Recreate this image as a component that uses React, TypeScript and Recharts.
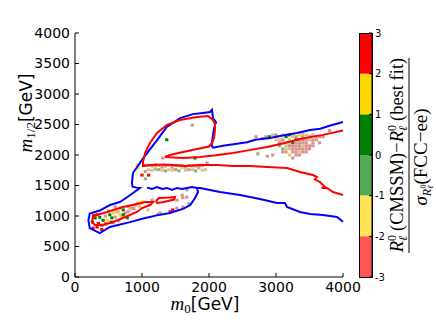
import React from "react";
import { ScatterChart, Scatter, XAxis, YAxis, BarChart, Bar } from "recharts";

const xTicks = [0, 1000, 2000, 3000, 4000];
const yTicks = [0, 500, 1000, 1500, 2000, 2500, 3000, 3500, 4000];

// colour bar levels, bottom to top
const cbLevels = [-3, -2, -1, 0, 1, 2, 3];
const cbColors = ["#ff5555", "#ffe455", "#55aa55", "#008000", "#ffd700", "#ff0000"];
// same bins, as they look on the scattered points
const cellColors = ["#d99090", "#d6c684", "#80b880", "#008000", "#ffd700", "#ff0000"];

// blue contour: top of the upper band, spike, left side, pinch, lower blob
const blueOuter = [
  [4000, 2540], [3800, 2480], [3660, 2430], [3510, 2410], [3310, 2360], [3060, 2310],
  [2910, 2280], [2690, 2250], [2570, 2210], [2390, 2180], [2210, 2150], [2060, 2120],
  [2040, 2150], [2045, 2213], [2060, 2330], [2075, 2440], [2105, 2540], [2060, 2606],
  [2045, 2740], [2015, 2705], [1910, 2690], [1760, 2670], [1570, 2605], [1370, 2460],
  [1225, 2245], [1090, 2050], [1000, 1920], [925, 1800], [865, 1705], [850, 1540],
  [860, 1480], [920, 1465], [970, 1460], [820, 1340], [670, 1230], [520, 1180],
  [370, 1090], [220, 1040], [200, 930], [220, 800], [370, 720], [520, 820],
  [820, 900], [1020, 960], [1220, 1010], [1420, 1050], [1620, 1120], [1720, 1180],
  [1790, 1290], [1836, 1393], [1821, 1460],
];

// blue contour: wavy gap line and bottom edge of the upper band
const blueLower = [
  [1075, 1465], [1150, 1443], [1224, 1475], [1300, 1443], [1373, 1460], [1448, 1426],
  [1522, 1460], [1597, 1443], [1672, 1460], [1746, 1475], [1821, 1460], [1866, 1460],
  [2164, 1393], [2463, 1344], [2761, 1279], [3015, 1213], [3134, 1213], [3164, 1148],
  [3358, 1066], [3507, 1033], [3701, 1016], [3910, 984], [4000, 905],
];

// red contours
const redLow = [
  [269, 1000], [478, 1066], [716, 1148], [925, 1197], [1045, 1230], [1165, 1230],
  [1120, 1180], [1000, 1131], [925, 1066], [716, 967], [567, 902], [418, 852],
  [299, 852], [254, 902], [269, 1000],
];
const redSmall = [
  [1209, 1246], [1254, 1295], [1418, 1303], [1493, 1311], [1478, 1270], [1328, 1229],
  [1224, 1213], [1209, 1246],
];
const redUpper = [
  [4000, 2400], [3700, 2330], [3358, 2262], [3100, 2190], [2866, 2131], [2600, 2080],
  [2358, 2033], [2100, 1995], [1866, 1967], [1612, 1951], [1343, 1967], [1418, 2000],
  [1612, 2049], [1821, 2098], [2000, 2139], [2045, 2197], [2075, 2279], [2090, 2410],
  [2090, 2508], [2060, 2574], [1985, 2639], [1821, 2623], [1567, 2574], [1373, 2492],
  [1224, 2361], [1119, 2197], [1045, 2033], [1015, 1885], [1015, 1820], [1119, 1836],
  [1343, 1844], [1642, 1820], [1866, 1836], [2119, 1836], [2358, 1820], [2612, 1820],
  [2866, 1803], [3164, 1787], [3358, 1721], [3552, 1672], [3612, 1639], [3580, 1600],
  [3657, 1557], [3731, 1475], [3680, 1460], [3761, 1459], [3851, 1393], [4000, 1344],
];

// scattered grid points: [m0, m12, value]
const cellPoints = [
  // low m0 blob
  [300, 970, 0.5], [330, 1020, 2.5], [370, 980, 0.5], [420, 930, 0.5], [350, 880, 2.5],
  [400, 850, 0.5], [480, 930, 1.5], [520, 1020, 0.5], [550, 970, 0.5], [570, 1050, 1.5],
  [600, 980, -2.5], [640, 1070, -2.5], [670, 1020, 1.5], [720, 1100, 0.5], [750, 1050, -2.5],
  [790, 1070, -2.5], [850, 1130, -2.5], [900, 1180, -2.5], [940, 1210, -2.5], [1000, 1210, 1.5],
  [780, 970, 0.5], [570, 890, -2.5], [270, 800, 2.5], [330, 820, 2.5], [400, 780, 2.5],
  [450, 1000, -2.5], [500, 1080, -0.5], [650, 920, -2.5], [700, 980, -1.5], [820, 1100, -1.5],
  [260, 900, 0.5], [280, 1010, 2.5], [460, 870, 2.5], [600, 1150, -2.5], [680, 1130, -2.5],
  [880, 1120, -2.5], [720, 1020, 0.5], [540, 900, 0.5], [620, 1080, -1.5], [800, 1150, -2.5],
  [960, 1160, -1.5],
  // below the small loop
  [1000, 1230, 1.5], [1090, 1100, -1.5], [1240, 1030, -2.5], [1270, 1050, -2.5], [1420, 1070, 2.5],
  [1460, 1100, 2.5], [1520, 1130, -2.5], [1610, 1150, -2.5], [1610, 1300, -2.5], [1670, 1310, -2.5],
  [1520, 1260, -2.5], [1600, 1340, -2.5], [1670, 1430, -2.5], [1150, 1260, -2.5], [1700, 1200, -0.5],
  // upper band, left part
  [1050, 1830, -2.5], [1150, 1820, -2.5], [1250, 1830, -2.5], [1300, 1800, -2.5], [1400, 1830, -2.5],
  [1450, 1800, -2.5], [1550, 1830, -2.5], [1650, 1800, -2.5], [1700, 1830, -2.5], [1800, 1820, -2.5],
  [1900, 1830, -2.5], [1100, 1760, -1.5], [1150, 1750, -1.5], [1200, 1770, -2.5], [1300, 1750, -1.5],
  [1350, 1740, -0.5], [1450, 1750, -1.5], [1500, 1760, -2.5], [1550, 1740, -0.5], [1650, 1750, -1.5],
  [1750, 1760, -1.5], [1800, 1740, -0.5], [1900, 1750, -1.5], [1950, 1760, -1.5], [1200, 1800, -1.5],
  [1600, 1790, -1.5], [1850, 1790, -2.5], [940, 1790, 1.5], [930, 1830, 1.5], [1000, 1670, 2.5],
  [1100, 1670, 2.5], [1050, 1610, -0.5], [1370, 2250, 0.5], [1790, 1950, 0.5], [1750, 2490, -2.5],
  [1970, 1870, -2.5], [1310, 1950, -2.5], [1050, 1730, -2.5], [1100, 1830, -2.5], [1200, 1840, -2.5],
  [1350, 1820, -2.5], [1500, 1830, -2.5], [1600, 1830, -2.5], [1750, 1820, -2.5], [1850, 1830, -2.5],
  [1400, 1760, -1.5], [1250, 1760, -0.5], [1700, 1760, -2.5],
  // upper band, right part
  [2950, 2330, -1.5], [3100, 2330, 1.5], [3200, 2330, 0.5], [3350, 2330, 1.5], [3450, 2330, -1.5],
  [3550, 2330, -1.5], [2850, 2300, -2.5], [2900, 2300, 0.5], [3000, 2300, -2.5], [3150, 2300, 0.5],
  [3250, 2300, -1.5], [3300, 2300, -2.5], [3400, 2300, -2.5], [3500, 2300, -2.5], [3600, 2300, -2.5],
  [3700, 2300, -2.5], [3050, 2250, -1.5], [3100, 2250, -2.5], [3200, 2250, -1.5], [3300, 2250, 0.5],
  [3350, 2250, -2.5], [3400, 2250, -2.5], [3450, 2250, -2.5], [3500, 2250, -1.5], [3550, 2250, -2.5],
  [3100, 2200, -1.5], [3150, 2200, -1.5], [3200, 2200, -1.5], [3250, 2200, 0.5], [3300, 2200, -2.5],
  [3350, 2200, -2.5], [3400, 2200, -2.5], [3450, 2200, -2.5], [3550, 2200, -2.5], [3650, 2200, -2.5],
  [3050, 2150, -0.5], [3150, 2150, -1.5], [3250, 2150, -2.5], [3300, 2150, -2.5], [3350, 2150, -2.5],
  [3400, 2150, -1.5], [3450, 2150, -2.5], [3500, 2150, -2.5], [3100, 2100, -0.5], [3200, 2100, -1.5],
  [3300, 2100, -2.5], [3350, 2100, -2.5], [3400, 2100, -2.5], [3450, 2100, -2.5], [3150, 2050, -2.5],
  [3250, 2050, -2.5], [3350, 2050, -1.5], [3400, 2050, -2.5], [2950, 2000, -2.5], [3200, 2000, -1.5],
  [3300, 2000, -2.5], [3250, 1950, -2.5], [2730, 2020, -0.5], [2870, 1980, -2.5], [3800, 2400, -2.5],
  [2800, 2270, -2.5], [3000, 2250, -1.5], [3050, 2200, -2.5], [3150, 2100, -1.5], [3250, 2100, -2.5],
  [3500, 2100, -2.5], [3550, 2150, -2.5], [3600, 2250, -2.5], [3650, 2300, -2.5], [3450, 2050, -2.5],
  [3300, 2050, -2.5], [3200, 2150, -2.5], [3000, 2330, -2.5], [3250, 2330, 1.5], [3400, 2350, -1.5],
  [2700, 2300, -2.5], [3350, 2000, -2.5], [3100, 2050, -2.5],
];

const toPts = (arr: number[][]) => arr.map(([x, y]) => ({ x, y }));
const cells = cellPoints.map(([x, y, v]) => ({ x, y, v }));

// colour bar row for a "sign" stack: negatives go down from 0, positives up
const cbSegments = [2, 1, 0, 3, 4, 5].map((i) => ({
  key: `s${i}`,
  color: cbColors[i],
  value: cbLevels[i] < 0 ? cbLevels[i] - cbLevels[i + 1] : cbLevels[i + 1] - cbLevels[i],
}));
const cbRow: any = { name: "cb" };
cbSegments.forEach((s) => (cbRow[s.key] = s.value));

const Square = (props: any) => {
  const { cx, cy, payload } = props;
  const i = Math.min(5, Math.max(0, Math.floor(payload.v + 3)));
  return <rect x={cx - 1.6} y={cy - 1.5} width={3.2} height={3} fill={cellColors[i]} />;
};

const NoDot = () => <g />;

const tickFont = { fontSize: 14, fontFamily: "DejaVu Sans", fill: "#000" };
const mathFont = "Liberation Serif";

export default function App() {
  const lines = [
    { d: blueOuter, c: "#0000ff" },
    { d: blueLower, c: "#0000ff" },
    { d: redLow, c: "#ff0000" },
    { d: redSmall, c: "#ff0000" },
    { d: redUpper, c: "#ff0000" },
  ];

  return (
    <div style={{ position: "absolute", left: 0, top: 0, width: 436, height: 327, background: "#fff" }}>
      <ScatterChart
        width={436}
        height={327}
        margin={{ top: 33, right: 93, bottom: 20, left: 15 }}
        style={{ position: "absolute", left: 0, top: 0 }}
      >
        <XAxis
          xAxisId="b"
          dataKey="x"
          type="number"
          domain={[0, 4000]}
          ticks={xTicks}
          height={30}
          tickSize={-4}
          tickMargin={9}
          tick={tickFont}
          stroke="#000"
          interval={0}
        />
        <XAxis
          xAxisId="t"
          orientation="top"
          dataKey="x"
          type="number"
          domain={[0, 4000]}
          ticks={xTicks}
          height={0}
          tickSize={-4}
          tick={false}
          stroke="#000"
        />
        <YAxis
          yAxisId="l"
          dataKey="y"
          type="number"
          domain={[0, 4000]}
          ticks={yTicks}
          width={60}
          tickSize={-4}
          tickMargin={9}
          tick={tickFont}
          stroke="#000"
          interval={0}
        />
        <YAxis
          yAxisId="r"
          orientation="right"
          dataKey="y"
          type="number"
          domain={[0, 4000]}
          ticks={yTicks}
          width={0}
          tickSize={-4}
          tick={false}
          stroke="#000"
        />
        <Scatter
          xAxisId="t"
          yAxisId="r"
          data={[{ x: 0, y: 0 }, { x: 4000, y: 4000 }]}
          shape={NoDot}
          isAnimationActive={false}
        />
        <Scatter xAxisId="b" yAxisId="l" data={cells} shape={Square} isAnimationActive={false} />
        {lines.map((l, i) => (
          <Scatter
            key={i}
            xAxisId="b"
            yAxisId="l"
            data={toPts(l.d)}
            line={{ stroke: l.c, strokeWidth: 2 }}
            lineJointType="linear"
            shape={NoDot}
            isAnimationActive={false}
          />
        ))}
      </ScatterChart>

      <BarChart
        width={45}
        height={327}
        data={[cbRow]}
        stackOffset="sign"
        barCategoryGap={0}
        margin={{ top: 33, right: 0, bottom: 50, left: 0 }}
        style={{ position: "absolute", left: 359, top: 0 }}
      >
        <XAxis dataKey="name" hide />
        <YAxis
          orientation="right"
          type="number"
          domain={[-3, 3]}
          ticks={cbLevels}
          width={32}
          tickSize={-3}
          tickMargin={6}
          tick={{ fontSize: 10, fontFamily: "DejaVu Sans", fill: "#000" }}
          stroke="#000"
          interval={0}
        />
        {cbSegments.map((s) => (
          <Bar key={s.key} dataKey={s.key} stackId="cb" fill={s.color} isAnimationActive={false} />
        ))}
      </BarChart>
      <div
        style={{
          position: "absolute",
          left: 359,
          top: 33,
          width: 14,
          height: 245,
          border: "1px solid #000",
          boxSizing: "border-box",
        }}
      />

      <svg width={436} height={327} style={{ position: "absolute", left: 0, top: 0 }}>
        <text x={205} y={310} textAnchor="middle" fontSize={17} fill="#000">
          <tspan fontFamily={mathFont} fontStyle="italic" fontSize={19}>m</tspan>
          <tspan fontFamily={mathFont} fontSize={13} dy={3}>0</tspan>
          <tspan fontFamily="DejaVu Sans" dy={-3}>[GeV]</tspan>
        </text>
        <text transform="translate(32,113) rotate(-90)" textAnchor="middle" fontSize={17} fill="#000">
          <tspan fontFamily={mathFont} fontStyle="italic" fontSize={19}>m</tspan>
          <tspan fontFamily={mathFont} fontSize={13} dy={3}>1/2</tspan>
          <tspan fontFamily="DejaVu Sans" dy={-3}>[GeV]</tspan>
        </text>
        <text
          transform="translate(403,155) rotate(-90)"
          textAnchor="middle"
          fontFamily={mathFont}
          fontSize={18.5}
          fill="#000"
        >
          <tspan fontStyle="italic">R</tspan>
          <tspan fontSize={12} fontStyle="italic" dy={4}>ℓ</tspan>
          <tspan fontSize={12} dx={-5} dy={-11}>0</tspan>
          <tspan dx={4} dy={7}>(CMSSM)−</tspan>
          <tspan fontStyle="italic">R</tspan>
          <tspan fontSize={12} fontStyle="italic" dy={4}>ℓ</tspan>
          <tspan fontSize={12} dx={-5} dy={-11}>0</tspan>
          <tspan dx={4} dy={7}>(best fit)</tspan>
        </text>
        <line x1={409} x2={409} y1={58} y2={253} stroke="#000" strokeWidth={1} />
        <text
          transform="translate(427,157) rotate(-90)"
          textAnchor="middle"
          fontFamily={mathFont}
          fontSize={19}
          fill="#000"
        >
          <tspan fontStyle="italic">σ</tspan>
          <tspan fontSize={12} fontStyle="italic" dy={4}>R</tspan>
          <tspan fontSize={8} fontStyle="italic" dy={2}>ℓ</tspan>
          <tspan fontSize={8} dx={-3} dy={-7}>0</tspan>
          <tspan dy={1}>(FCC−ee)</tspan>
        </text>
      </svg>
    </div>
  );
}
